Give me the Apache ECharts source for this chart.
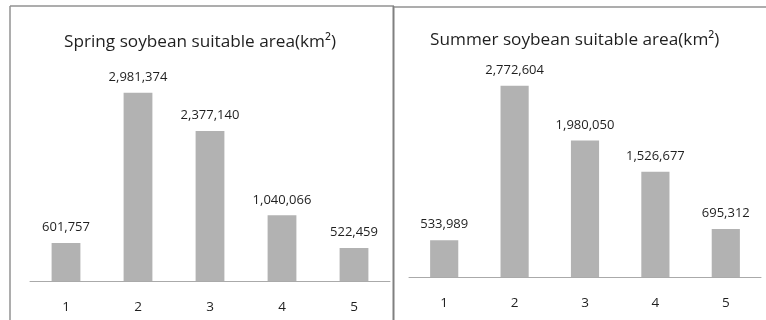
<!DOCTYPE html>
<html>
<head>
<meta charset="utf-8">
<script src="https://cdn.jsdelivr.net/npm/echarts@6/dist/echarts.min.js"></script>
<style>
  html, body { margin: 0; padding: 0; background: #ffffff; }
  #chart { width: 766px; height: 320px; }
</style>
</head>
<body>
<div id="chart"></div>
<script>
// Suitability classes shared by both panels
const categories = ['1', '2', '3', '4', '5'];

// Suitable area per class, km²
const springArea = [601757, 2981374, 2377140, 1040066, 522459];
const summerArea = [533989, 2772604, 1980050, 1526677, 695312];

const springTitle = 'Spring soybean suitable area(km²)';
const summerTitle = 'Summer soybean suitable area(km²)';

const FONT = '"Open Sans", "Liberation Sans", sans-serif';
const TEXT = '#1f1f1f';
const BAR = '#b2b2b2';
const FRAME = '#929292';

const fmt = v => v.toLocaleString('en-US');

function xAxisFor(gridIndex) {
  return {
    type: 'category',
    gridIndex,
    data: categories,
    axisLine: { lineStyle: { color: '#aaaaaa', width: 1 } },
    axisTick: { show: false },
    axisLabel: { color: TEXT, fontFamily: FONT, fontSize: 13.5, margin: 19 }
  };
}

function yAxisFor(gridIndex, max) {
  return {
    type: 'value',
    gridIndex,
    min: 0,
    max,
    show: false,
    splitLine: { show: false }
  };
}

function barSeries(idx, data) {
  return {
    type: 'bar',
    xAxisIndex: idx,
    yAxisIndex: idx,
    data,
    barWidth: '40%',
    itemStyle: { color: BAR },
    label: {
      show: true,
      position: 'top',
      distance: 9,
      color: TEXT,
      fontFamily: FONT,
      fontSize: 13,
      formatter: p => fmt(p.value)
    },
    animation: false
  };
}

const chart = echarts.init(document.getElementById('chart'), null, { renderer: 'canvas' });

chart.setOption({
  backgroundColor: '#ffffff',
  animation: false,
  title: [
    {
      text: springTitle,
      left: 59,
      top: 29,
      textStyle: { color: TEXT, fontFamily: FONT, fontSize: 17.2, fontWeight: 'normal' }
    },
    {
      text: summerTitle,
      left: 425,
      top: 27,
      textStyle: { color: TEXT, fontFamily: FONT, fontSize: 17.2, fontWeight: 'normal' }
    }
  ],
  grid: [
    { left: 30, width: 360, top: 60, height: 221 },
    { left: 409, width: 352, top: 70, height: 207 }
  ],
  xAxis: [xAxisFor(0), xAxisFor(1)],
  yAxis: [yAxisFor(0, 3500000), yAxisFor(1, 3000000)],
  series: [barSeries(0, springArea), barSeries(1, summerArea)],
  graphic: [
    // panel frames
    { type: 'line', shape: { x1: 10, y1: 6, x2: 394, y2: 6 }, style: { stroke: FRAME, lineWidth: 1.5 } },
    { type: 'line', shape: { x1: 10, y1: 6, x2: 10, y2: 320 }, style: { stroke: FRAME, lineWidth: 1.5 } },
    { type: 'line', shape: { x1: 393.5, y1: 6, x2: 393.5, y2: 320 }, style: { stroke: '#808080', lineWidth: 2 } },
    { type: 'line', shape: { x1: 394, y1: 7, x2: 766, y2: 7 }, style: { stroke: FRAME, lineWidth: 1.5 } }
  ]
});
</script>
</body>
</html>
